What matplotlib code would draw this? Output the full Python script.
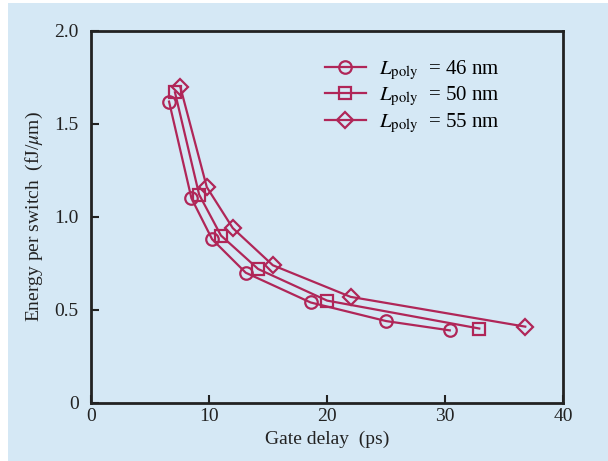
import matplotlib
matplotlib.use('Agg')
import matplotlib.pyplot as plt
from matplotlib.patches import Rectangle

# gate delay (ps) and energy per switch (fJ/um) for each poly length
delay_46 = [6.6, 8.5, 10.25, 13.1, 18.6, 25.0, 30.4]
energy_46 = [1.62, 1.10, 0.88, 0.70, 0.54, 0.44, 0.39]

delay_50 = [7.1, 9.15, 11.0, 14.15, 20.0, 32.9]
energy_50 = [1.67, 1.12, 0.90, 0.72, 0.55, 0.40]

delay_55 = [7.55, 9.8, 12.0, 15.4, 22.0, 36.8]
energy_55 = [1.70, 1.16, 0.94, 0.74, 0.57, 0.41]

xticks = [0, 10, 20, 30, 40]
yticks = [0, 0.5, 1.0, 1.5, 2.0]
yticklabels = ['0', '0.5', '1.0', '1.5', '2.0']

bg = '#d5e8f5'
col = '#b02658'

plt.rcParams['font.family'] = ['Liberation Serif', 'DejaVu Serif']
plt.rcParams['mathtext.fontset'] = 'stix'

fig = plt.figure(figsize=(6.08, 4.61), dpi=100)
fig.patch.set_facecolor('white')
fig.patches.append(Rectangle((8/608, 0), 1, 1 - 3/461, transform=fig.transFigure,
                             facecolor=bg, edgecolor='none', zorder=-10))
ax = fig.add_axes([0.15, 0.126, 0.776, 0.807])
ax.set_facecolor(bg)

kw = dict(color=col, lw=1.6, markersize=9, markerfacecolor='none',
          markeredgewidth=1.6, clip_on=False)
ax.plot(delay_46, energy_46, marker='o', label=r'$L_{\rm poly}$  = 46 nm', **kw)
ax.plot(delay_50, energy_50, marker='s', label=r'$L_{\rm poly}$  = 50 nm', **kw)
ax.plot(delay_55, energy_55, marker='D', label=r'$L_{\rm poly}$  = 55 nm',
        **{**kw, 'markersize': 8})

ax.set_xlim(0, 40)
ax.set_ylim(0, 2.0)
ax.set_xticks(xticks)
ax.set_yticks(yticks)
ax.set_yticklabels(yticklabels)
ax.tick_params(direction='in', length=6, width=1.5, labelsize=14, colors='#222222')
ax.tick_params(axis='y', pad=9)
ax.tick_params(axis='x', pad=4)
for s in ax.spines.values():
    s.set_linewidth(2)
    s.set_color('#222222')

ax.set_xlabel('Gate delay  (ps)', fontsize=14, color='#222222', labelpad=4)
ax.set_ylabel(r'Energy per switch  (fJ/$\mu$m)', fontsize=14, color='#222222', labelpad=7)

ax.legend(loc='upper left', bbox_to_anchor=(0.455, 0.975), frameon=False, fontsize=15,
          handlelength=2.0, labelspacing=0.15, handletextpad=0.6)

fig.savefig('out.png', dpi=100, facecolor=fig.get_facecolor())
